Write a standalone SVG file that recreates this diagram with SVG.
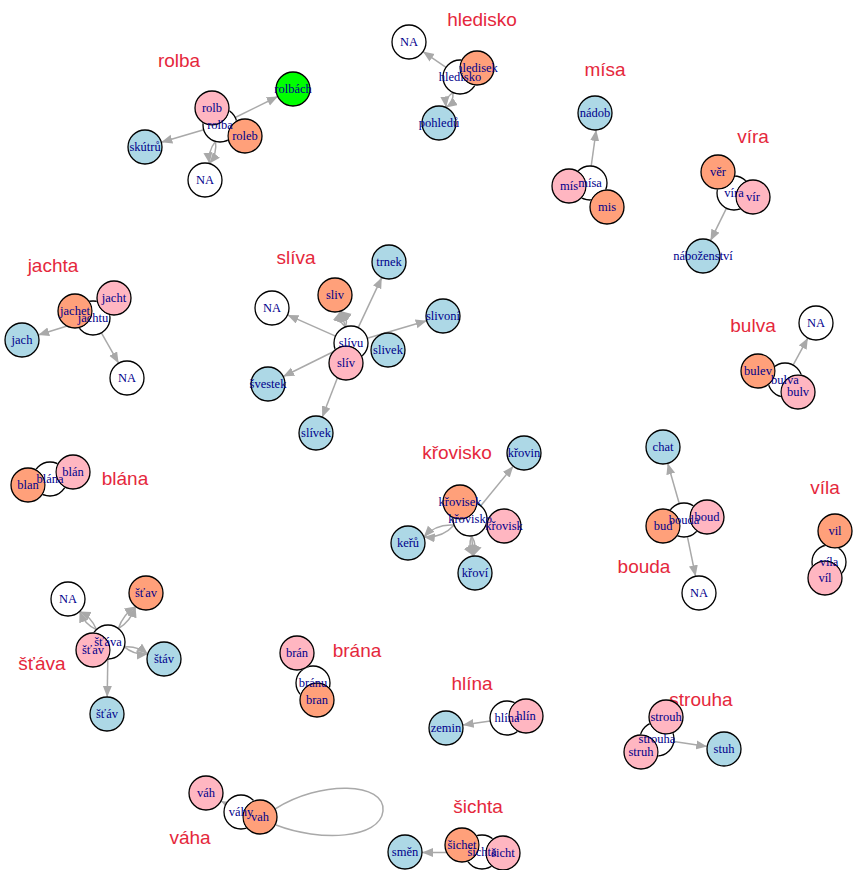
<svg xmlns="http://www.w3.org/2000/svg" width="853" height="870" viewBox="0 0 853 870">
<style>
.e{fill:none;stroke:#a9a9a9;stroke-width:1.5;marker-end:url(#arr)}
.loop{fill:none;stroke:#a9a9a9;stroke-width:1.5}
.n circle{stroke:#000;stroke-width:1.3}
.w{fill:#fff}.b{fill:#add8e6}.p{fill:#ffb6c1}.s{fill:#ffa07a}.g{fill:#00ff00}
.n text{font-family:"Liberation Serif","Times New Roman",serif;font-size:12.5px;fill:#00008b;text-anchor:middle}
.t{font-family:"Liberation Sans",Arial,sans-serif;font-size:19px;fill:#e5283c;text-anchor:middle}
</style>
<defs>
<marker id="arr" markerUnits="userSpaceOnUse" markerWidth="12" markerHeight="10" refX="11" refY="4.5" orient="auto">
<path d="M0,0 L11,4.5 L0,9 z" fill="#a9a9a9"/>
</marker>
<!-- cut-outs so the centre circles sit beneath their overlapping neighbours -->
<mask id="m-rolba" maskUnits="userSpaceOnUse" x="0" y="0" width="853" height="870"><rect width="853" height="870" fill="#fff"/><circle cx="212" cy="108" r="17.8"/><circle cx="245" cy="136" r="17.8"/></mask>
<mask id="m-hledisko" maskUnits="userSpaceOnUse" x="0" y="0" width="853" height="870"><rect width="853" height="870" fill="#fff"/><circle cx="477" cy="68" r="17.8"/></mask>
<mask id="m-misa" maskUnits="userSpaceOnUse" x="0" y="0" width="853" height="870"><rect width="853" height="870" fill="#fff"/><circle cx="569" cy="186" r="17.8"/><circle cx="607" cy="207" r="17.8"/></mask>
<mask id="m-vira" maskUnits="userSpaceOnUse" x="0" y="0" width="853" height="870"><rect width="853" height="870" fill="#fff"/><circle cx="718" cy="172" r="17.8"/><circle cx="753" cy="197" r="17.8"/></mask>
<mask id="m-jachtu" maskUnits="userSpaceOnUse" x="0" y="0" width="853" height="870"><rect width="853" height="870" fill="#fff"/><circle cx="114" cy="298" r="17.8"/><circle cx="75" cy="311" r="17.8"/></mask>
<mask id="m-slivu" maskUnits="userSpaceOnUse" x="0" y="0" width="853" height="870"><rect width="853" height="870" fill="#fff"/><circle cx="346" cy="363" r="17.8"/></mask>
<mask id="m-bulva" maskUnits="userSpaceOnUse" x="0" y="0" width="853" height="870"><rect width="853" height="870" fill="#fff"/><circle cx="758" cy="371" r="17.8"/><circle cx="798" cy="392" r="17.8"/></mask>
<mask id="m-krovisko" maskUnits="userSpaceOnUse" x="0" y="0" width="853" height="870"><rect width="853" height="870" fill="#fff"/><circle cx="460" cy="502" r="17.8"/><circle cx="504" cy="526" r="17.8"/></mask>
<mask id="m-bouda" maskUnits="userSpaceOnUse" x="0" y="0" width="853" height="870"><rect width="853" height="870" fill="#fff"/><circle cx="663" cy="526" r="17.8"/><circle cx="707" cy="517" r="17.8"/></mask>
<mask id="m-vila" maskUnits="userSpaceOnUse" x="0" y="0" width="853" height="870"><rect width="853" height="870" fill="#fff"/><circle cx="835" cy="531" r="17.8"/><circle cx="825" cy="578" r="17.8"/></mask>
<mask id="m-blana" maskUnits="userSpaceOnUse" x="0" y="0" width="853" height="870"><rect width="853" height="870" fill="#fff"/><circle cx="73" cy="472" r="17.8"/><circle cx="28" cy="485" r="17.8"/></mask>
<mask id="m-stava" maskUnits="userSpaceOnUse" x="0" y="0" width="853" height="870"><rect width="853" height="870" fill="#fff"/><circle cx="93" cy="650" r="17.8"/></mask>
<mask id="m-branu" maskUnits="userSpaceOnUse" x="0" y="0" width="853" height="870"><rect width="853" height="870" fill="#fff"/><circle cx="297" cy="653" r="17.8"/><circle cx="317" cy="700" r="17.8"/></mask>
<mask id="m-hlina" maskUnits="userSpaceOnUse" x="0" y="0" width="853" height="870"><rect width="853" height="870" fill="#fff"/><circle cx="526" cy="716" r="17.8"/></mask>
<mask id="m-strouha" maskUnits="userSpaceOnUse" x="0" y="0" width="853" height="870"><rect width="853" height="870" fill="#fff"/><circle cx="666" cy="717" r="17.8"/><circle cx="641" cy="752" r="17.8"/></mask>
<mask id="m-vahy" maskUnits="userSpaceOnUse" x="0" y="0" width="853" height="870"><rect width="853" height="870" fill="#fff"/><circle cx="260" cy="817" r="17.8"/></mask>
<mask id="m-sichta" maskUnits="userSpaceOnUse" x="0" y="0" width="853" height="870"><rect width="853" height="870" fill="#fff"/><circle cx="462" cy="845" r="17.8"/><circle cx="503" cy="853" r="17.8"/></mask>
</defs>
<rect width="853" height="870" fill="#fff"/>

<!-- group titles -->
<g id="titles">
<text class="t" x="179" y="67">rolba</text>
<text class="t" x="482" y="26">hledisko</text>
<text class="t" x="605" y="76">mísa</text>
<text class="t" x="753" y="143">víra</text>
<text class="t" x="53" y="272">jachta</text>
<text class="t" x="296" y="264">slíva</text>
<text class="t" x="753" y="332">bulva</text>
<text class="t" x="457" y="459">křovisko</text>
<text class="t" x="825" y="494">víla</text>
<text class="t" x="125" y="485">blána</text>
<text class="t" x="644" y="573">bouda</text>
<text class="t" x="42" y="670">šťáva</text>
<text class="t" x="357" y="657">brána</text>
<text class="t" x="472" y="690">hlína</text>
<text class="t" x="701" y="706">strouha</text>
<text class="t" x="190" y="844">váha</text>
<text class="t" x="478" y="813">šichta</text>
</g>

<!-- connectors -->
<g id="edges">
<path class="e" d="M235.2,117.5 L277.8,96.5"/>
<path class="e" d="M203.7,129.8 L161.3,142.2"/>
<path class="e" d="M215.5,141.4 Q217.3,153.8 209.5,163.6"/>
<path class="e" d="M215.5,141.4 Q207.7,151.2 209.5,163.6"/>
<path class="e" d="M446,67.4 L423,51.6"/>
<path class="e" d="M452.9,92.5 Q454,102.1 446.1,107.5"/>
<path class="e" d="M452.9,92.5 Q445,97.9 446.1,107.5"/>
<path class="e" d="M591.2,166 L596.2,130"/>
<path class="e" d="M726.5,208.2 L710.5,240.7"/>
<path class="e" d="M76.8,323 L38.2,335"/>
<path class="e" d="M101.4,332.8 L118.6,363.2"/>
<path class="e" d="M358.2,327.6 L381.8,277.4"/>
<path class="e" d="M345.6,326.9 L340.4,311.1"/>
<path class="e" d="M345.6,326.9 Q348.7,317.1 340.4,311.1"/>
<path class="e" d="M345.6,326.9 Q337.3,320.9 340.4,311.1"/>
<path class="e" d="M335.5,336.1 L287.5,314.9"/>
<path class="e" d="M367.3,338.2 L426.7,320.8"/>
<path class="e" d="M335.8,350.5 L283.2,376.5"/>
<path class="e" d="M344.8,358.8 L322.2,417.2"/>
<path class="e" d="M793.1,365.1 L807.9,337.9"/>
<path class="e" d="M480.8,505.8 L513.2,466.2"/>
<path class="e" d="M454.2,525.1 Q441.9,538.5 423.8,536.9"/>
<path class="e" d="M454.2,525.1 Q436.1,523.5 423.8,536.9"/>
<path class="e" d="M471.6,535.9 L473.4,556.1"/>
<path class="e" d="M471.6,535.9 Q477.5,545.5 473.4,556.1"/>
<path class="e" d="M471.6,535.9 Q467.5,546.5 473.4,556.1"/>
<path class="e" d="M679.3,503.7 L667.7,463.3"/>
<path class="e" d="M687.4,536.7 L695.6,576.3"/>
<path class="e" d="M96.4,629.6 Q91.7,617.1 79.6,611.4"/>
<path class="e" d="M96.4,629.6 Q84.3,623.9 79.6,611.4"/>
<path class="e" d="M118.4,628.6 Q131,620.6 135.6,606.4"/>
<path class="e" d="M118.4,628.6 Q123,614.4 135.6,606.4"/>
<path class="e" d="M124.3,646.9 Q134.5,655.3 147.7,654.1"/>
<path class="e" d="M124.3,646.9 Q137.5,645.7 147.7,654.1"/>
<path class="e" d="M107.8,659 L107.2,697"/>
<path class="e" d="M490.3,721 L462.7,725"/>
<path class="e" d="M673.8,741.5 L707.2,746.5"/>
<path class="e" d="M232,807 L221,801.1"/>
<path class="loop" d="M275,809 C320,780 386,782 383,811 C380,839 320,842 276,825"/>
<path class="e" d="M465,852.5 L422,852.5"/>
</g>

<!-- rolba -->
<g id="node-rolbach" class="n"><circle class="g" cx="293" cy="89" r="17"/><text x="293" y="93">rolbách</text></g>
<g id="node-skutru" class="n"><circle class="b" cx="145" cy="147" r="17"/><text x="145" y="151">skútrů</text></g>
<g id="node-rolba-na" class="n"><circle class="w" cx="205" cy="180" r="17"/><text x="205" y="184">NA</text></g>
<g id="node-rolb" class="n"><circle class="p" cx="212" cy="108" r="17"/><text x="212" y="112">rolb</text></g>
<g id="node-roleb" class="n"><circle class="s" cx="245" cy="136" r="17"/><text x="245" y="140">roleb</text></g>
<g id="node-rolba" class="n"><circle class="w" cx="220" cy="125" r="17" mask="url(#m-rolba)"/><text x="220" y="129">rolba</text></g>

<!-- hledisko -->
<g id="node-hledisko-na" class="n"><circle class="w" cx="409" cy="42" r="17"/><text x="409" y="46">NA</text></g>
<g id="node-pohledu" class="n"><circle class="b" cx="439" cy="123" r="17"/><text x="439" y="127">pohledů</text></g>
<g id="node-hledisek" class="n"><circle class="s" cx="477" cy="68" r="17"/><text x="477" y="72">hledisek</text></g>
<g id="node-hledisko" class="n"><circle class="w" cx="460" cy="77" r="17" mask="url(#m-hledisko)"/><text x="460" y="81">hledisko</text></g>

<!-- mísa -->
<g id="node-nadob" class="n"><circle class="b" cx="595" cy="113" r="17"/><text x="595" y="117">nádob</text></g>
<g id="node-mis-p" class="n"><circle class="p" cx="569" cy="186" r="17"/><text x="569" y="190">mís</text></g>
<g id="node-mis-s" class="n"><circle class="s" cx="607" cy="207" r="17"/><text x="607" y="211">mis</text></g>
<g id="node-misa" class="n"><circle class="w" cx="590" cy="183" r="17" mask="url(#m-misa)"/><text x="590" y="187">mísa</text></g>

<!-- víra -->
<g id="node-nabozenstvi" class="n"><circle class="b" cx="703" cy="256" r="17"/><text x="703" y="260">náboženství</text></g>
<g id="node-ver" class="n"><circle class="s" cx="718" cy="172" r="17"/><text x="718" y="176">věr</text></g>
<g id="node-vir" class="n"><circle class="p" cx="753" cy="197" r="17"/><text x="753" y="201">vír</text></g>
<g id="node-vira" class="n"><circle class="w" cx="734" cy="193" r="17" mask="url(#m-vira)"/><text x="734" y="197">víra</text></g>

<!-- jachta -->
<g id="node-jach" class="n"><circle class="b" cx="22" cy="340" r="17"/><text x="22" y="344">jach</text></g>
<g id="node-jachta-na" class="n"><circle class="w" cx="127" cy="378" r="17"/><text x="127" y="382">NA</text></g>
<g id="node-jacht" class="n"><circle class="p" cx="114" cy="298" r="17"/><text x="114" y="302">jacht</text></g>
<g id="node-jachet" class="n"><circle class="s" cx="75" cy="311" r="17"/><text x="75" y="315">jachet</text></g>
<g id="node-jachtu" class="n"><circle class="w" cx="93" cy="318" r="17" mask="url(#m-jachtu)"/><text x="93" y="322">jachtu</text></g>

<!-- slíva -->
<g id="node-trnek" class="n"><circle class="b" cx="389" cy="262" r="17"/><text x="389" y="266">trnek</text></g>
<g id="node-sliv-s" class="n"><circle class="s" cx="335" cy="295" r="17"/><text x="335" y="299">sliv</text></g>
<g id="node-sliva-na" class="n"><circle class="w" cx="272" cy="308" r="17"/><text x="272" y="312">NA</text></g>
<g id="node-slivoni" class="n"><circle class="b" cx="443" cy="316" r="17"/><text x="443" y="320">slivoní</text></g>
<g id="node-slivek" class="n"><circle class="b" cx="388" cy="350" r="17"/><text x="388" y="354">slivek</text></g>
<g id="node-svestek" class="n"><circle class="b" cx="268" cy="384" r="17"/><text x="268" y="388">švestek</text></g>
<g id="node-slivek-2" class="n"><circle class="b" cx="316" cy="433" r="17"/><text x="316" y="437">slívek</text></g>
<g id="node-sliv-p" class="n"><circle class="p" cx="346" cy="363" r="17"/><text x="346" y="367">slív</text></g>
<g id="node-slivu" class="n"><circle class="w" cx="351" cy="343" r="17" mask="url(#m-slivu)"/><text x="351" y="347">slívu</text></g>

<!-- bulva -->
<g id="node-bulva-na" class="n"><circle class="w" cx="816" cy="323" r="17"/><text x="816" y="327">NA</text></g>
<g id="node-bulev" class="n"><circle class="s" cx="758" cy="371" r="17"/><text x="758" y="375">bulev</text></g>
<g id="node-bulv" class="n"><circle class="p" cx="798" cy="392" r="17"/><text x="798" y="396">bulv</text></g>
<g id="node-bulva" class="n"><circle class="w" cx="785" cy="380" r="17" mask="url(#m-bulva)"/><text x="785" y="384">bulva</text></g>

<!-- křovisko -->
<g id="node-krovin" class="n"><circle class="b" cx="524" cy="453" r="17"/><text x="524" y="457">křovin</text></g>
<g id="node-keru" class="n"><circle class="b" cx="408" cy="543" r="17"/><text x="408" y="547">keřů</text></g>
<g id="node-krovi" class="n"><circle class="b" cx="475" cy="573" r="17"/><text x="475" y="577">křoví</text></g>
<g id="node-krovisek" class="n"><circle class="s" cx="460" cy="502" r="17"/><text x="460" y="506">křovisek</text></g>
<g id="node-krovisk" class="n"><circle class="p" cx="504" cy="526" r="17"/><text x="504" y="530">křovisk</text></g>
<g id="node-krovisko" class="n"><circle class="w" cx="470" cy="519" r="17" mask="url(#m-krovisko)"/><text x="470" y="523">křovisko</text></g>

<!-- bouda -->
<g id="node-chat" class="n"><circle class="b" cx="663" cy="447" r="17"/><text x="663" y="451">chat</text></g>
<g id="node-bouda-na" class="n"><circle class="w" cx="699" cy="593" r="17"/><text x="699" y="597">NA</text></g>
<g id="node-bud" class="n"><circle class="s" cx="663" cy="526" r="17"/><text x="663" y="530">bud</text></g>
<g id="node-boud" class="n"><circle class="p" cx="707" cy="517" r="17"/><text x="707" y="521">boud</text></g>
<g id="node-bouda" class="n"><circle class="w" cx="684" cy="520" r="17" mask="url(#m-bouda)"/><text x="684" y="524">bouda</text></g>

<!-- víla -->
<g id="node-vil-s" class="n"><circle class="s" cx="835" cy="531" r="17"/><text x="835" y="535">vil</text></g>
<g id="node-vil-p" class="n"><circle class="p" cx="825" cy="578" r="17"/><text x="825" y="582">víl</text></g>
<g id="node-vila" class="n"><circle class="w" cx="829" cy="562" r="17" mask="url(#m-vila)"/><text x="829" y="566">víla</text></g>

<!-- blána -->
<g id="node-blan-p" class="n"><circle class="p" cx="73" cy="472" r="17"/><text x="73" y="476">blán</text></g>
<g id="node-blan-s" class="n"><circle class="s" cx="28" cy="485" r="17"/><text x="28" y="489">blan</text></g>
<g id="node-blana" class="n"><circle class="w" cx="50" cy="479" r="17" mask="url(#m-blana)"/><text x="50" y="483">blána</text></g>

<!-- šťáva -->
<g id="node-stava-na" class="n"><circle class="w" cx="68" cy="599" r="17"/><text x="68" y="603">NA</text></g>
<g id="node-stav-s" class="n"><circle class="s" cx="146" cy="593" r="17"/><text x="146" y="597">šťav</text></g>
<g id="node-stav-b" class="n"><circle class="b" cx="164" cy="659" r="17"/><text x="164" y="663">štáv</text></g>
<g id="node-stav-b2" class="n"><circle class="b" cx="107" cy="714" r="17"/><text x="107" y="718">šťáv</text></g>
<g id="node-stav-p" class="n"><circle class="p" cx="93" cy="650" r="17"/><text x="93" y="654">šťav</text></g>
<g id="node-stava" class="n"><circle class="w" cx="108" cy="642" r="17" mask="url(#m-stava)"/><text x="108" y="646">šťáva</text></g>

<!-- brána -->
<g id="node-bran-p" class="n"><circle class="p" cx="297" cy="653" r="17"/><text x="297" y="657">brán</text></g>
<g id="node-bran-s" class="n"><circle class="s" cx="317" cy="700" r="17"/><text x="317" y="704">bran</text></g>
<g id="node-branu" class="n"><circle class="w" cx="313" cy="683" r="17" mask="url(#m-branu)"/><text x="313" y="687">bránu</text></g>

<!-- hlína -->
<g id="node-zemin" class="n"><circle class="b" cx="446" cy="728" r="17"/><text x="446" y="732">zemin</text></g>
<g id="node-hlin" class="n"><circle class="p" cx="526" cy="716" r="17"/><text x="526" y="720">hlín</text></g>
<g id="node-hlina" class="n"><circle class="w" cx="507" cy="718" r="17" mask="url(#m-hlina)"/><text x="507" y="722">hlína</text></g>

<!-- strouha -->
<g id="node-stuh" class="n"><circle class="b" cx="724" cy="749" r="17"/><text x="724" y="753">stuh</text></g>
<g id="node-strouh" class="n"><circle class="p" cx="666" cy="717" r="17"/><text x="666" y="721">strouh</text></g>
<g id="node-struh" class="n"><circle class="p" cx="641" cy="752" r="17"/><text x="641" y="756">struh</text></g>
<g id="node-strouha" class="n"><circle class="w" cx="657" cy="739" r="17" mask="url(#m-strouha)"/><text x="657" y="743">strouha</text></g>

<!-- váha -->
<g id="node-vah-p" class="n"><circle class="p" cx="206" cy="793" r="17"/><text x="206" y="797">váh</text></g>
<g id="node-vah-s" class="n"><circle class="s" cx="260" cy="817" r="17"/><text x="260" y="821">vah</text></g>
<g id="node-vahy" class="n"><circle class="w" cx="241" cy="812" r="17" mask="url(#m-vahy)"/><text x="241" y="816">váhy</text></g>

<!-- šichta -->
<g id="node-smen" class="n"><circle class="b" cx="405" cy="852" r="17"/><text x="405" y="856">směn</text></g>
<g id="node-sichet" class="n"><circle class="s" cx="462" cy="845" r="17"/><text x="462" y="849">šichet</text></g>
<g id="node-sicht" class="n"><circle class="p" cx="503" cy="853" r="17"/><text x="503" y="857">šicht</text></g>
<g id="node-sichta" class="n"><circle class="w" cx="482" cy="852" r="17" mask="url(#m-sichta)"/><text x="482" y="856">šichta</text></g>
</svg>
